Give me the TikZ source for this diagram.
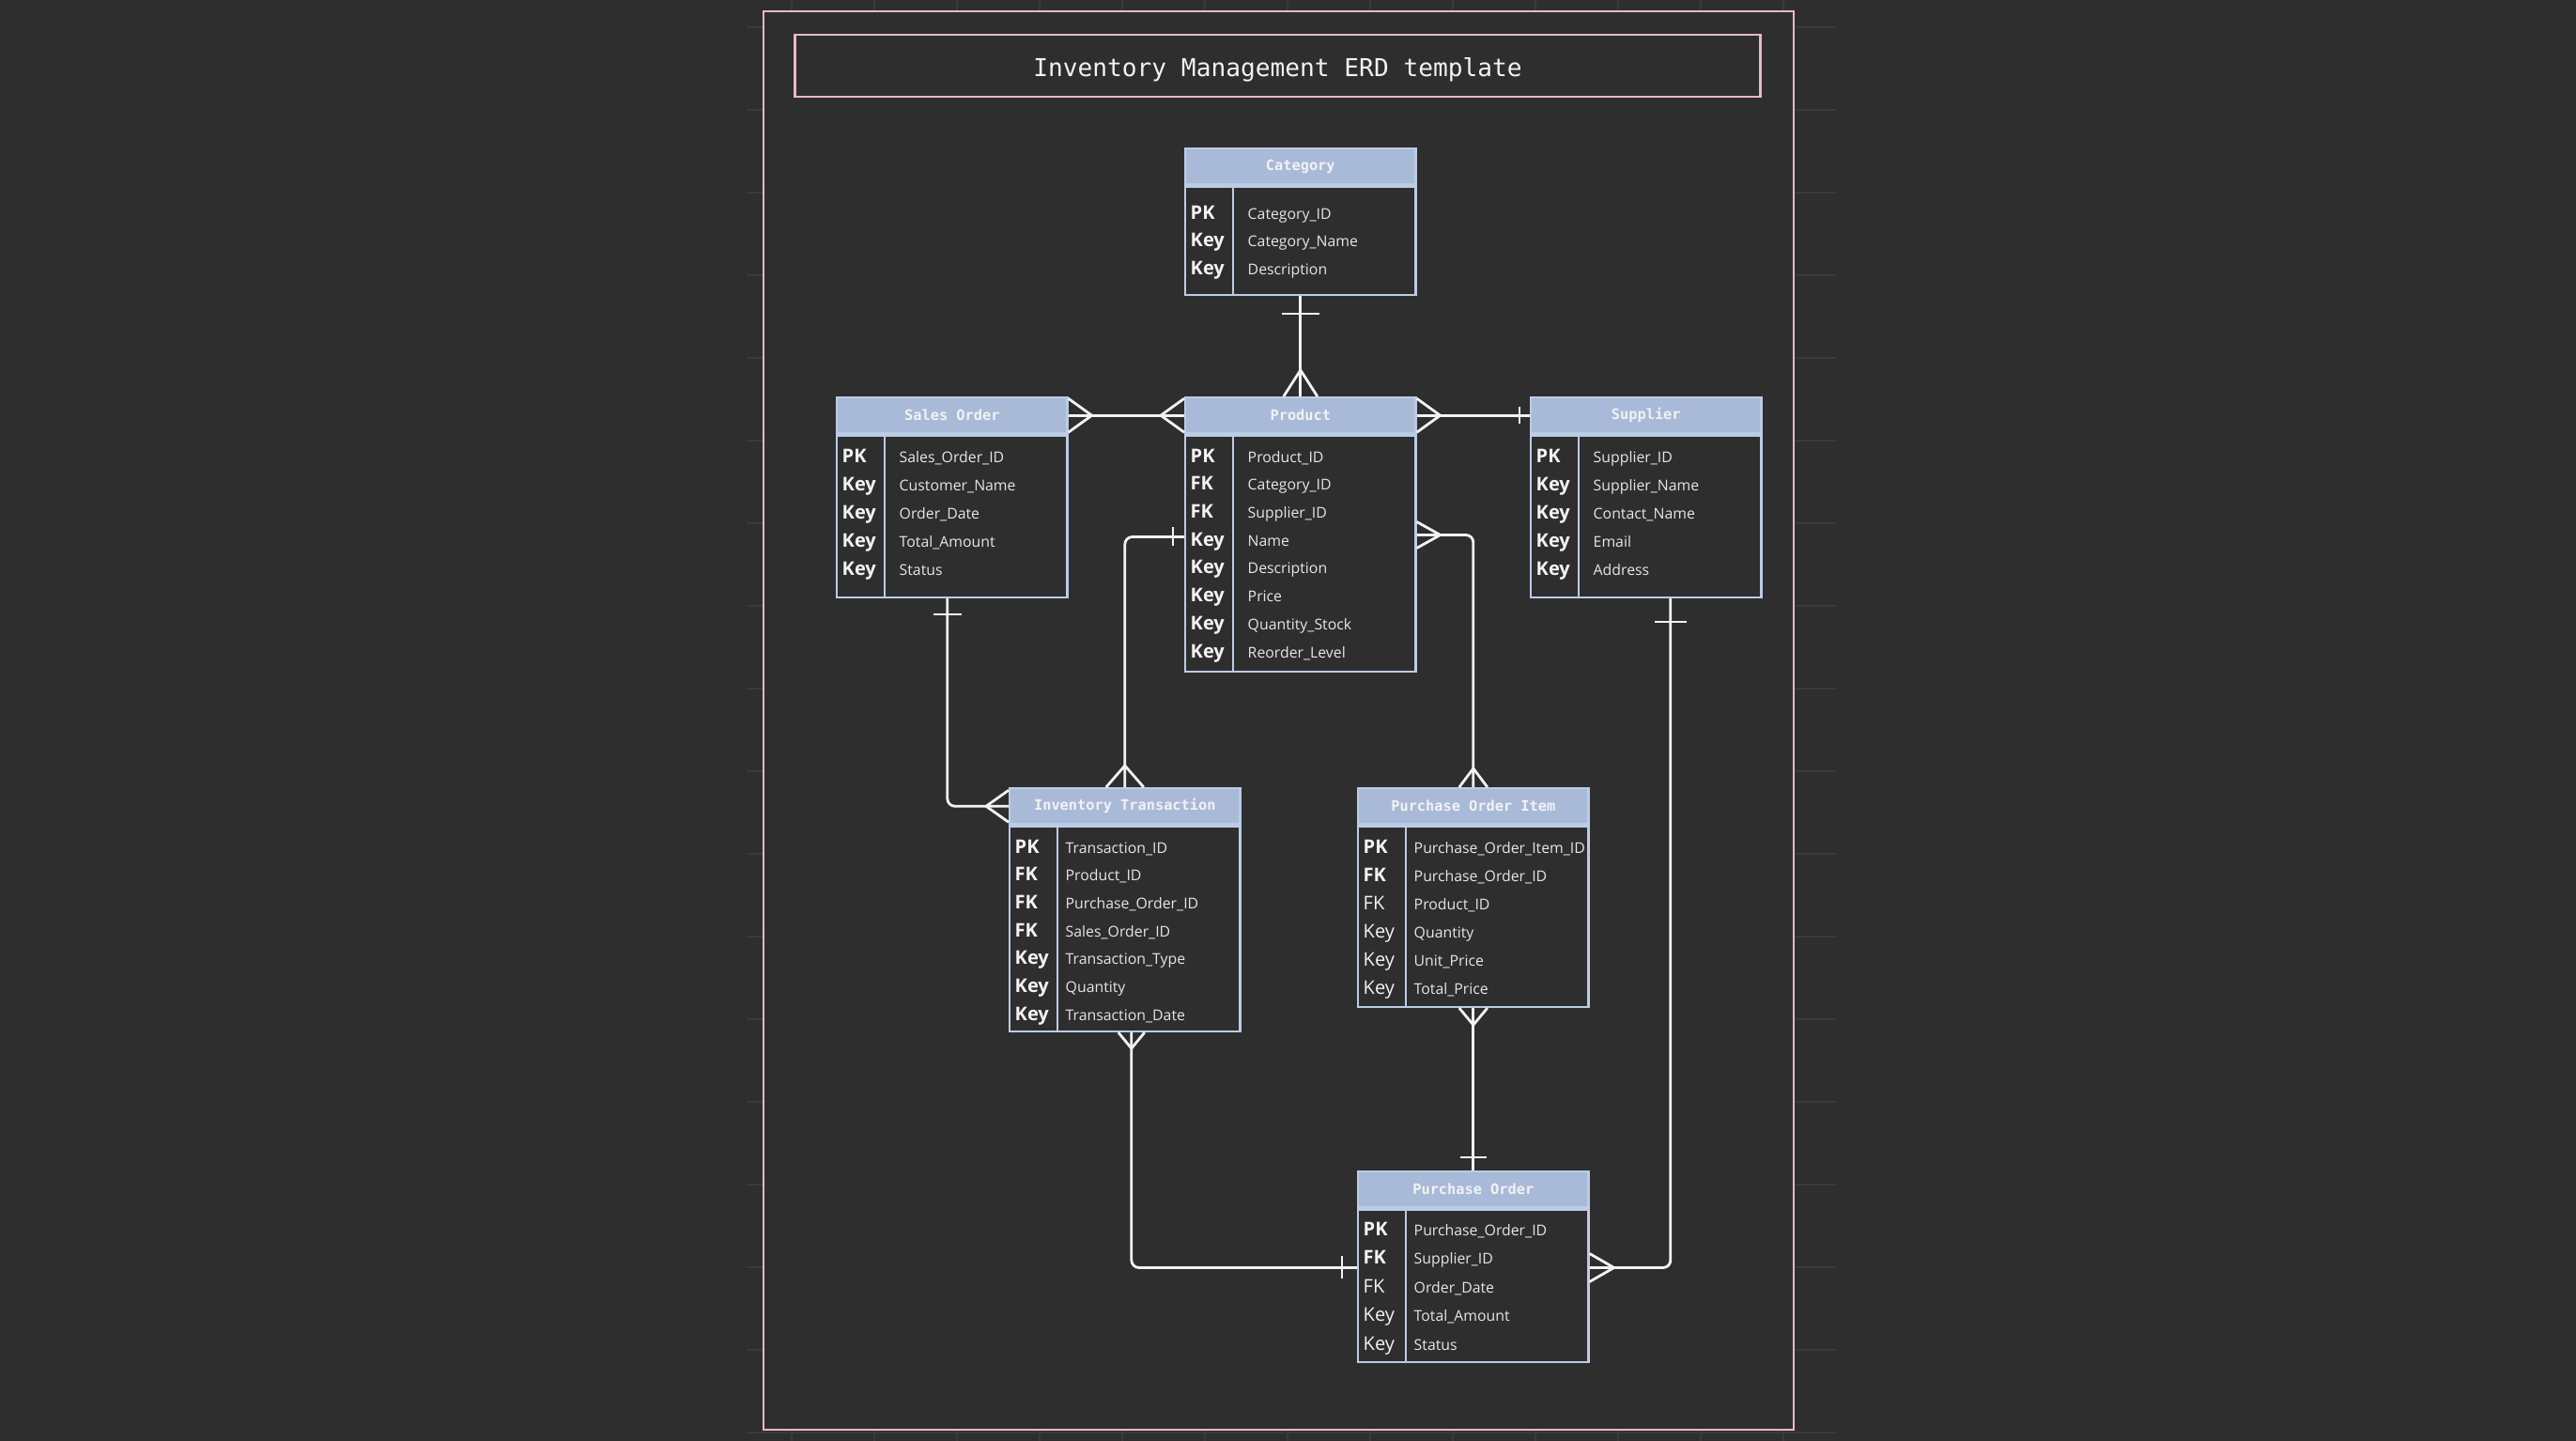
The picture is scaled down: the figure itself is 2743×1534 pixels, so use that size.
\documentclass[tikz,border=0pt]{standalone}
\usepackage{fontspec}
\setmainfont{Open Sans}
\newfontfamily\erdmono{DejaVu Sans Mono}
\usepackage{tikz}
\usetikzlibrary{calc}

\definecolor{canvas}{HTML}{2E2E2E}
\definecolor{gridln}{HTML}{3A3A3A}
\definecolor{framepink}{HTML}{E9B9C3}
\definecolor{hdrblue}{HTML}{A9BAD8}
\definecolor{tblblue}{HTML}{BCCBE6}
\definecolor{inkwhite}{HTML}{F2F2F2}
\definecolor{fldwhite}{HTML}{E6E6E6}

% entity table: id, x, y, title, body height (cm), first row, row gap, field x, rows
\newcommand{\entity}[9]{
  \node[hdr, anchor=north west] (#1) at (#2,#3) {#4};
  \node[tblbody, anchor=north west, minimum height=#5cm] (#1b) at (#1.south west) {};
  \draw[tbl] ($(#1b.north west)+(52,0)$) -- ($(#1b.south west)+(52,0)$);
  \foreach \k/\f [count=\i] in {#9} {
    \node[keytxt] (#1k\i) at ($(#1b.north west)+(6,{#6+#7*(\i-1)})$) {\k};
    \node[fldtxt] (#1f\i) at ($(#1b.north west)+(#8,{#6+#7*(\i-1)})$) {\f};
  }
}
% end marks: one bar and crow's foot
\newcommand{\onebar}[3]{\draw[conn] ($(#1)+(#2)+(#3)$) -- ($(#1)+(#2)-(#3)$);}
\newcommand{\manyfoot}[3]{\draw[conn] ($(#1)+(#3)$) -- ($(#1)+(#2)$) -- ($(#1)-(#3)$);}

\begin{document}
\begin{tikzpicture}[x=0.01cm, y=-0.01cm,
    tbl/.style={draw=tblblue, line width=0.7pt},
    hdr/.style={tbl, fill=hdrblue, minimum width=2.45cm, minimum height=0.38cm, inner sep=0pt,
      text=inkwhite, font=\erdmono\bfseries\fontsize{4.35}{5}\selectfont},
    tblbody/.style={tbl, fill=canvas, minimum width=2.45cm, inner sep=0pt},
    keytxt/.style={anchor=west, inner sep=0pt, text height=0.72em, text depth=0pt,
      text=inkwhite, font=\bfseries\fontsize{5.7}{6.5}\selectfont},
    fldtxt/.style={anchor=west, inner sep=0pt, text height=0.72em, text depth=0pt,
      text=fldwhite, font=\fontsize{4.5}{5.4}\selectfont},
    conn/.style={draw=inkwhite, line width=0.8pt},
    titlebox/.style={draw=framepink, line width=0.8pt, minimum width=10.27cm, minimum height=0.66cm},
    titletxt/.style={anchor=base, inner sep=0pt, text=inkwhite, font=\erdmono\fontsize{7.45}{9}\selectfont}]
  \useasboundingbox (0,0) rectangle (2743,1534);
  \fill[canvas] (0,0) rectangle (2743,1534);

  % canvas grid round the sheet
  \begin{scope}
    \clip (795,0) rectangle (1955,1534);
    \foreach \gx in {0,...,13} \draw[gridln, line width=0.6pt] ({755+88*\gx},0) -- ++(0,1534);
    \foreach \gy in {0,...,17} \draw[gridln, line width=0.6pt] (795,{29+88*\gy}) -- ++(1160,0);
  \end{scope}
  \draw[framepink, line width=0.8pt, fill=canvas] (813,12) rectangle (1910,1522);

  \node[titlebox] (title) at (1360.5,70) {};
  \node[titletxt] (titletext) at (1360.5,82) {Inventory Management ERD template};

  \entity{cat}{1261}{157}{Category}{1.15}{23}{29.5}{67}{PK/Category\_ID, Key/Category\_Name, Key/Description}
  \entity{sales}{890}{422}{Sales Order}{1.72}{17}{30}{67}{PK/Sales\_Order\_ID, Key/Customer\_Name, Key/Order\_Date, Key/Total\_Amount, Key/Status}
  \entity{prod}{1261}{422}{Product}{2.51}{17}{29.7}{67}{PK/Product\_ID, FK/Category\_ID, FK/Supplier\_ID, Key/Name, Key/Description, Key/Price, Key/Quantity\_Stock, Key/Reorder\_Level}
  \entity{supp}{1629}{422}{Supplier}{1.72}{17}{30}{67}{PK/Supplier\_ID, Key/Supplier\_Name, Key/Contact\_Name, Key/Email, Key/Address}
  \entity{inv}{1074}{838}{Inventory Transaction}{2.18}{17}{29.7}{60}{PK/Transaction\_ID, FK/Product\_ID, FK/Purchase\_Order\_ID, FK/Sales\_Order\_ID, Key/Transaction\_Type, Key/Quantity, Key/Transaction\_Date}
  \entity{poi}{1445}{838}{Purchase Order Item}{1.92}{17}{30}{60}{PK/Purchase\_Order\_Item\_ID, FK/Purchase\_Order\_ID, \textmd{FK}/Product\_ID, \textmd{Key}/Quantity, \textmd{Key}/Unit\_Price, \textmd{Key}/Total\_Price}
  \entity{po}{1445}{1246}{Purchase Order}{1.62}{16}{30.5}{60}{PK/Purchase\_Order\_ID, FK/Supplier\_ID, \textmd{FK}/Order\_Date, \textmd{Key}/Total\_Amount, \textmd{Key}/Status}

  \coordinate (salesB) at ($(salesb.south)+(-5,0)$);
  \coordinate (prodL) at ($(prodb.north west)+(0,109)$);
  \coordinate (prodR) at ($(prodb.north east)+(0,107)$);
  \coordinate (invB) at ($(invb.south)+(7,0)$);
  \coordinate (suppB) at ($(suppb.south)+(26,0)$);
  \coordinate (poL) at ($(pob.north west)+(0,63)$);
  \coordinate (poR) at ($(pob.north east)+(0,63)$);

  % relations
  \draw[conn] (catb.south) -- (prod.north);
  \onebar{catb.south}{0,19}{20,0}
  \manyfoot{prod.north}{0,-28}{18,0}

  \draw[conn] (sales.east) -- (prod.west);
  \manyfoot{sales.east}{25,0}{0,18}
  \manyfoot{prod.west}{-25,0}{0,18}

  \draw[conn] (prod.east) -- (supp.west);
  \manyfoot{prod.east}{25,0}{0,18}
  \onebar{supp.west}{-11,0}{0,9}

  \draw[conn, rounded corners=0.8mm] (salesB) |- (inv.west);
  \onebar{salesB}{0,17}{15,0}
  \manyfoot{inv.west}{-24,0}{0,17}

  \draw[conn, rounded corners=0.8mm] (inv.north) |- (prodL);
  \manyfoot{inv.north}{0,-23}{20,0}
  \onebar{prodL}{-12,0}{0,10}

  \draw[conn, rounded corners=0.8mm] (prodR) -| (poi.north);
  \manyfoot{prodR}{25,0}{0,14}
  \manyfoot{poi.north}{0,-20}{15,0}

  \draw[conn] (poib.south) -- (po.north);
  \manyfoot{poib.south}{0,18}{15,0}
  \onebar{po.north}{0,-14}{14,0}

  \draw[conn, rounded corners=0.8mm] (invB) |- (poL);
  \manyfoot{invB}{0,17}{14,0}
  \onebar{poL}{-16,0}{0,12}

  \draw[conn, rounded corners=0.8mm] (suppB) |- (poR);
  \onebar{suppB}{0,25}{17,0}
  \manyfoot{poR}{26,0}{0,15}
\end{tikzpicture}
\end{document}
